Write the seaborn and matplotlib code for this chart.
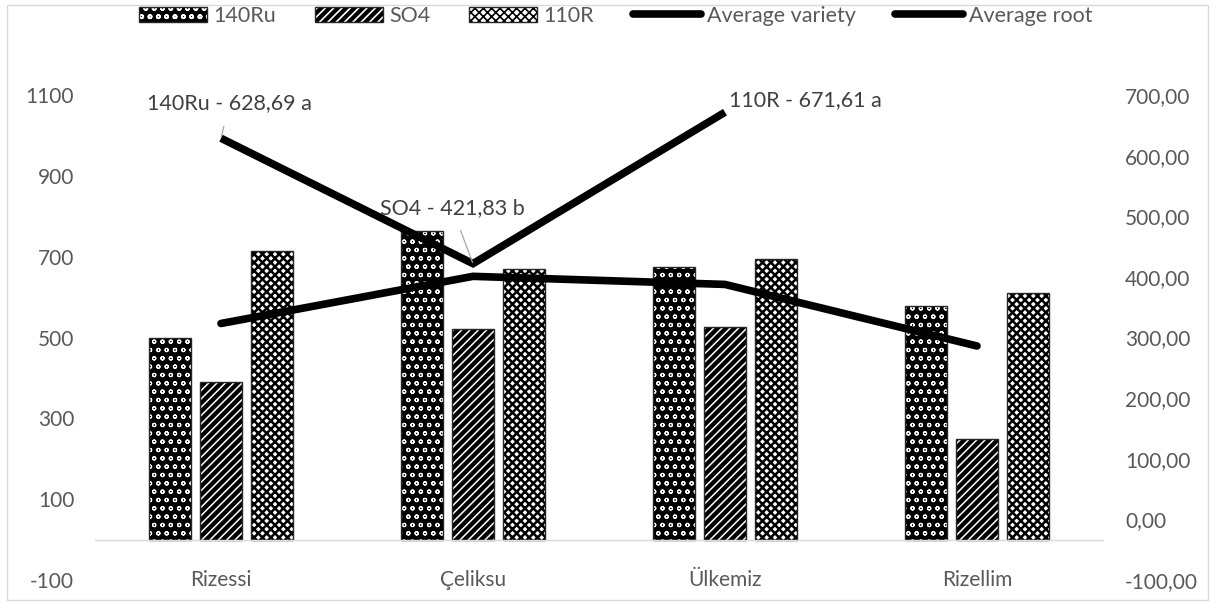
import numpy as np
import pandas as pd
import seaborn as sns
import matplotlib
matplotlib.use("Agg")
import matplotlib.pyplot as plt
from matplotlib.patches import Patch, Rectangle
from matplotlib.lines import Line2D
from matplotlib.legend_handler import HandlerTuple
from matplotlib.ticker import FuncFormatter

# ---- data -------------------------------------------------------------
cultivars = ["Rizessi", "Çeliksu", "Ülkemiz", "Rizellim"]
rootstocks = ["140Ru", "SO4", "110R"]
vals_140ru = [499, 763, 675, 578]
vals_so4 = [390, 522, 526, 250]
vals_110r = [715, 669, 693, 609]
avg_root = [534.67, 651.33, 631.33, 479.00]          # mean of the three rootstocks per cultivar
avg_variety = [628.69, 421.83, 671.61]               # mean of each rootstock over cultivars
avg_variety_labels = ["140Ru - 628,69 a", "SO4 - 421,83 b", "110R - 671,61 a"]
left_ticks = [-100, 100, 300, 500, 700, 900, 1100]
right_ticks = [-100, 0, 100, 200, 300, 400, 500, 600, 700]

# ---- style ------------------------------------------------------------
sns.set_theme(style="white")
plt.rcParams["font.family"] = ["Lato", "DejaVu Sans"]
plt.rcParams["axes.unicode_minus"] = False
plt.rcParams["hatch.linewidth"] = 1.2
TXT = "#595959"
AXC = "#d9d9d9"
FS = 15

W, H = 1215, 605
fig = plt.figure(figsize=(W / 100, H / 100), dpi=100)
ax = fig.add_axes([95 / W, 25 / H, (1103 - 95) / W, 485 / H])

df = pd.DataFrame({
    "cultivar": cultivars * 3,
    "rootstock": np.repeat(rootstocks, len(cultivars)),
    "value": vals_140ru + vals_so4 + vals_110r,
})

sns.barplot(data=df, x="cultivar", y="value", hue="rootstock",
            order=cultivars, hue_order=rootstocks,
            width=0.607, gap=0.176, errorbar=None, legend=False,
            palette=["black", "black", "white"], saturation=1,
            linewidth=0, ax=ax)

# fill pattern per rootstock: (face colour, hatch, hatch colour, hatch width)
patterns = {
    "140Ru": ("black", "oo", "white", 0.8),
    "SO4": ("black", "////", "white", 1.1),
    "110R": ("white", "xxxx", "black", 1.8),
}


def style_patch(p, name):
    face, hatch, hcol, hlw = patterns[name]
    p.set_facecolor(face)
    p.set_hatch(hatch)
    p.set_edgecolor(hcol)
    p.set_linewidth(0)
    if hasattr(p, "set_hatch_linewidth"):
        p.set_hatch_linewidth(hlw)


for name, cont in zip(rootstocks, ax.containers):
    for bar in cont:
        style_patch(bar, name)
        ax.add_patch(Rectangle(bar.get_xy(), bar.get_width(), bar.get_height(),
                               fill=False, edgecolor="#262626", lw=1.0, zorder=1.5))

# average per cultivar (left axis)
sns.lineplot(x=list(range(len(cultivars))), y=avg_root, ax=ax, color="black",
             lw=5.5, sort=False, solid_capstyle="round", solid_joinstyle="round")

ax.set_xlim(-0.5, len(cultivars) - 0.5)
ax.set_ylim(left_ticks[0], left_ticks[-1])
ax.set_yticks(left_ticks)
ax.set_xticks(range(len(cultivars)))
ax.set_xticklabels(cultivars)
ax.set_xticks(np.arange(-0.5, len(cultivars)), minor=True)
ax.set_xlabel("")
ax.set_ylabel("")
for s in ["left", "right", "top"]:
    ax.spines[s].set_visible(False)
ax.spines["bottom"].set_position(("data", 0))
ax.spines["bottom"].set_color(AXC)
ax.spines["bottom"].set_linewidth(1)
ax.tick_params(axis="x", which="major", length=0, pad=22, labelsize=FS, labelcolor=TXT)
ax.tick_params(axis="x", which="minor", length=5, width=1, color=AXC, direction="out")
ax.tick_params(axis="y", length=0, pad=15, labelsize=FS, labelcolor=TXT)
ax.grid(False)

# average per rootstock (right axis)
ax2 = ax.twinx()
sns.lineplot(x=list(range(len(avg_variety))), y=avg_variety, ax=ax2, color="black",
             lw=5.5, sort=False, solid_capstyle="butt", solid_joinstyle="miter")
ax2.set_ylim(right_ticks[0], right_ticks[-1])
ax2.set_yticks(right_ticks)
ax2.yaxis.set_major_formatter(FuncFormatter(lambda v, _: f"{v:.2f}".replace(".", ",")))
ax2.set_ylabel("")
for s in ax2.spines.values():
    s.set_visible(False)
ax2.tick_params(axis="y", length=0, pad=16, labelsize=FS, labelcolor=TXT)
ax2.grid(False)
ax2.set_xlim(-0.5, len(cultivars) - 0.5)

offsets = [(6, 25), (-15, 40), (58, 9)]
leader = [True, True, False]
for i, (lab, v) in enumerate(zip(avg_variety_labels, avg_variety)):
    kw = {}
    if leader[i]:
        kw["arrowprops"] = dict(arrowstyle="-", color="#a6a6a6", lw=0.9,
                                shrinkA=7, shrinkB=1)
    ax2.annotate(lab, xy=(i, v), xytext=offsets[i], textcoords="offset points",
                 ha="center", va="center", fontsize=FS + 0.5, color="#404040", **kw)

# legend
handles = []
for name in rootstocks:
    hp = Patch()
    style_patch(hp, name)
    handles.append((hp, Patch(fill=False, edgecolor="#262626", lw=1.0)))
handles += [Line2D([], [], color="black", lw=5.5), Line2D([], [], color="black", lw=5.5)]
labels = rootstocks + ["Average variety", "Average root"]
fig.legend(handles, labels, loc="center", bbox_to_anchor=(616 / W, 1 - 16 / H),
           ncol=5, frameon=False, fontsize=FS + 0.5, labelcolor=TXT,
           handlelength=3.15, handleheight=0.7, handletextpad=0.3,
           columnspacing=1.8, handler_map={tuple: HandlerTuple(ndivide=1, pad=0)})

# chart-area border
fig.add_artist(Rectangle((7 / W, 5 / H), 1 - 14 / W, 1 - 10 / H,
                         transform=fig.transFigure, fill=False,
                         edgecolor=AXC, lw=1))

fig.savefig("out.png", dpi=100)
